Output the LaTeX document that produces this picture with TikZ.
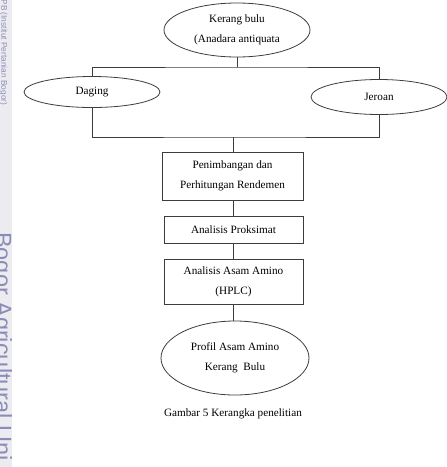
\documentclass[tikz,border=0pt]{standalone}
\usepackage{fontspec}
\setmainfont{Liberation Serif}
\setsansfont{Liberation Sans}
\usetikzlibrary{shapes.geometric}
\definecolor{wmark}{RGB}{140,140,185}
\definecolor{strip}{RGB}{236,236,240}
\definecolor{lncol}{RGB}{60,60,60}
\begin{document}
\begin{tikzpicture}[x=1pt,y=-1pt,
  ln/.style={draw=lncol, line width=0.8pt},
  txt/.style={font=\fontsize{11.2}{20}\selectfont, align=center},
  oval/.style={ellipse, ln, inner sep=0pt, txt},
  boxn/.style={rectangle, ln, inner sep=0pt, txt}]
\useasboundingbox (0,0) rectangle (447,467);
% watermark strip
\fill[strip] (0,0) rectangle (12,467);
\begin{scope}
  \clip (0,0) rectangle (13,467);
  \node[rotate=-90, anchor=base west, inner sep=0pt, text=wmark,
        font=\sffamily\fontsize{8.3}{8.3}\selectfont] (wm1) at (1.5,-3) {IPB (Institut Pertanian Bogor)};
  \node[rotate=-90, anchor=base west, inner sep=0pt, text=wmark,
        font=\sffamily\fontsize{23.5}{23.5}\selectfont] (wm2) at (-5,232) {Bogor Agricultural Uni};
\end{scope}
% nodes
\node[oval, minimum width=146pt, minimum height=54pt] (src) at (237,30) {Kerang bulu\\(Anadara antiquata};
\node[oval, minimum width=136pt, minimum height=31pt] (daging) at (92,92) {Daging};
\node[oval, minimum width=136pt, minimum height=35pt] (jeroan) at (379,97) {Jeroan};
\node[boxn, minimum width=141pt, minimum height=48pt] (box1) at (232.5,176) {Penimbangan dan\\Perhitungan Rendemen};
\node[boxn, minimum width=139pt, minimum height=27pt] (box2) at (233.5,229.5) {Analisis Proksimat};
\node[boxn, minimum width=139pt, minimum height=45pt] (box3) at (233.5,281.5) {Analisis Asam Amino\\(HPLC)};
\node[oval, minimum width=148pt, minimum height=74pt] (prof) at (235,358) {Profil Asam Amino\\Kerang\ \ Bulu};
\node[txt] (cap) at (233,414) {Gambar 5 Kerangka penelitian};
% junctions
\coordinate (j1) at (237,67);
\coordinate (j2) at (233,137);
% connectors
\draw[ln] (src.south) -- (j1);
\draw[ln] (daging.north) |- (j1) -| (jeroan.north);
\draw[ln] (daging.south) |- (j2) -| (jeroan.south);
\draw[ln] (j2) -- (box1.north -| j2);
\draw[ln] (box1.south -| j2) -- (box2.north -| j2);
\draw[ln] (box2.south) -- (box3.north);
\draw[ln] (box3.south) -- (box3.south |- prof.north);
\end{tikzpicture}
\end{document}
